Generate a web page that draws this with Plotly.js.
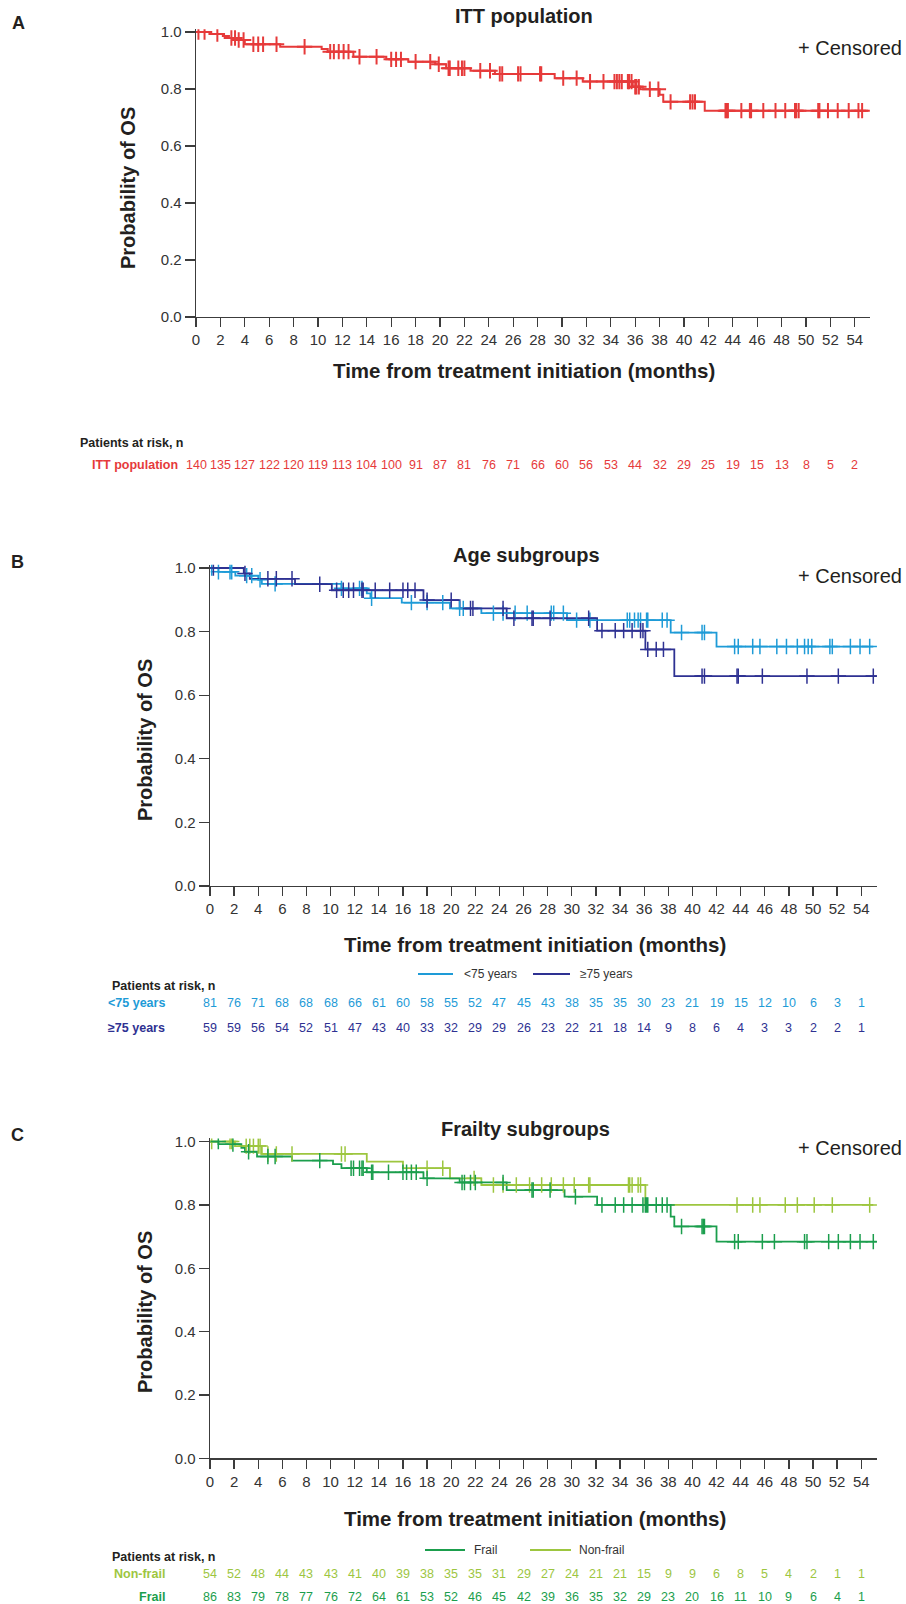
<!DOCTYPE html>
<html>
<head>
<meta charset="utf-8">
<script src="https://cdn.plot.ly/plotly-3.0.1.min.js"></script>
<style>html,body{margin:0;padding:0;background:#fff;}#chart{width:906px;height:1604px;}</style>
</head>
<body>
<div id="chart"></div>
<script>
// ---------------- DATA ----------------
const riskTimes = [0,2,4,6,8,10,12,14,16,18,20,22,24,26,28,30,32,34,36,38,40,42,44,46,48,50,52,54];

// Panel A: ITT population
const ittTimes = [0,1.1,2.2,2.7,3.3,4.0,6.9,10.3,10.8,12.9,15.6,17.4,19.6,20.5,22.5,24.5,29.4,31.7,35.8,36.4,38.0,38.3,41.7];
const ittSurv  = [1.0,0.993,0.986,0.979,0.972,0.957,0.948,0.940,0.931,0.913,0.904,0.896,0.887,0.873,0.864,0.853,0.838,0.826,0.808,0.799,0.780,0.755,0.724];
const ittEnd = 55.1;
const ittCensor = [0.2,0.7,1.75,2.9,3.2,3.5,3.9,4.7,5.1,5.5,6.6,8.9,11.0,11.3,11.7,12.1,12.5,13.4,14.8,16.0,16.4,16.8,18.0,19.2,19.9,20.7,20.8,21.5,21.8,22.0,23.3,24.1,24.9,25.1,26.4,26.6,28.2,28.3,30.1,31.2,32.3,33.4,34.3,34.5,34.7,34.9,35.4,35.5,35.7,36.0,36.1,36.3,37.2,37.9,38.9,40.5,40.7,40.9,43.4,43.5,43.6,44.7,45.4,45.5,46.5,47.5,48.3,49.1,49.2,49.4,51.0,51.1,51.8,52.6,53.5,54.3,54.6];
const ittRisk = [140,135,127,122,120,119,113,104,100,91,87,81,76,71,66,60,56,53,44,32,29,25,19,15,13,8,5,2];

// Panel B: age subgroups
const youngTimes = [0,0.7,2.1,4.0,4.3,10.9,13.0,13.3,15.9,19.9,22.5,29.6,38.2,42.0];
const youngSurv  = [1.0,0.988,0.976,0.963,0.950,0.936,0.920,0.905,0.891,0.873,0.858,0.836,0.797,0.753];
const youngEnd = 55.0;
const youngCensor = [0.14,0.7,1.66,1.8,3.04,3.46,4.15,5.4,10.9,12.4,12.6,13.4,16.7,18.0,19.3,20.7,21.0,23.5,24.3,25.3,26.3,28.3,28.5,29.3,30.4,31.5,34.6,34.8,35.2,35.5,35.7,36.2,36.3,37.5,37.9,39.1,40.8,41.0,43.5,43.8,45.0,45.6,47.0,47.8,48.7,49.3,49.6,49.9,51.4,51.6,53.1,53.9,54.7];
const youngRisk = [81,76,71,68,68,68,66,61,60,58,55,52,47,45,43,38,35,35,30,23,21,19,15,12,10,6,3,1];

const oldTimes = [0,2.8,3.3,7.05,10.1,17.7,20.7,24.6,32.1,36.1,38.5];
const oldSurv  = [1.0,0.983,0.966,0.949,0.930,0.899,0.873,0.842,0.803,0.744,0.660];
const oldEnd = 55.3;
const oldCensor = [0.28,2.9,4.8,5.5,6.8,9.1,10.5,11.05,11.5,11.9,12.6,12.7,13.7,14.9,16.0,16.4,17.0,18.0,20.0,21.6,21.8,24.3,25.2,26.7,26.8,28.2,31.4,32.5,33.6,34.3,35.0,35.7,35.9,36.3,37.0,37.6,40.8,41.0,43.7,43.8,45.8,49.5,52.1,55.0];
const oldRisk = [59,59,56,54,52,51,47,43,40,33,32,29,29,26,23,22,21,18,14,9,8,6,4,3,3,2,2,1];

// Panel C: frailty subgroups
const nonfrailTimes = [0,2.07,4.3,13.0,16.0,19.9,22.5,36.1];
const nonfrailSurv  = [1.0,0.986,0.961,0.937,0.916,0.884,0.863,0.800];
const nonfrailEnd = 55.0;
const nonfrailCensor = [0.14,1.66,1.8,3.0,3.3,3.6,4.0,4.15,4.8,5.5,6.8,10.9,11.2,18.0,19.3,21.9,23.5,24.3,25.4,26.5,27.5,28.3,29.3,30.2,31.4,31.5,34.7,34.8,35.0,35.5,35.7,43.7,45.0,45.6,47.7,48.7,50.1,51.6,54.7];
const nonfrailRisk = [54,52,48,44,43,43,41,40,39,38,35,35,31,29,27,24,21,21,15,9,9,6,8,5,4,2,1,1];

const frailTimes = [0,0.7,2.6,2.9,3.9,6.8,10.2,10.9,13.0,17.7,20.7,24.6,29.4,32.1,38.2,38.5,42.0];
const frailSurv  = [1.0,0.992,0.980,0.968,0.953,0.940,0.929,0.916,0.903,0.884,0.871,0.847,0.826,0.800,0.763,0.732,0.684];
const frailEnd = 55.3;
const frailCensor = [0.69,1.9,3.2,4.8,5.4,9.1,11.7,11.9,12.4,12.6,12.7,13.4,13.5,14.8,16.0,16.3,16.7,17.1,18.0,20.9,21.1,21.6,22.0,24.3,26.7,26.8,28.2,30.3,32.5,33.6,34.3,35.0,35.9,36.1,36.2,36.3,37.0,37.5,37.9,39.1,40.8,40.9,41.0,43.5,43.8,45.8,46.8,49.3,49.5,51.3,52.1,53.1,53.9,55.0];
const frailRisk = [86,83,79,78,77,76,72,64,61,53,52,46,45,42,39,36,35,32,29,23,20,16,11,10,9,6,4,1];

const yTickVals = [0,0.2,0.4,0.6,0.8,1.0];
const yTickText = ['0.0','0.2','0.4','0.6','0.8','1.0'];

// ---------------- STYLE ----------------
const C_ITT = '#E63A3A', C_YOUNG = '#1E9BD7', C_OLD = '#2E3192', C_FRAIL = '#1B9E4D', C_NONFRAIL = '#9DC63F';
const FONT = 'Liberation Sans, Arial, Helvetica, sans-serif';
const TXT = '#231F20';
const W = 906, H = 1604;
const PX = x => x / W, PY = y => 1 - y / H;

function stepVal(times, surv, t) { let v = surv[0]; for (let i = 0; i < times.length; i++) if (times[i] <= t) v = surv[i]; return v; }
function curve(times, surv, end, color, xa, ya, w) {
  return {x: times.concat([end]), y: surv.concat([surv[surv.length-1]]), xaxis: xa, yaxis: ya,
    mode: 'lines', line: {shape: 'hv', color: color, width: w}, hoverinfo: 'skip'};
}
function marks(times, surv, cens, color, xa, ya, lw) {
  return {x: cens, y: cens.map(t => stepVal(times, surv, t)), xaxis: xa, yaxis: ya, mode: 'markers',
    marker: {symbol: 'cross-thin', size: 11, color: color, line: {color: color, width: lw}}, hoverinfo: 'skip'};
}

const traces = [
  curve(ittTimes, ittSurv, ittEnd, C_ITT, 'x', 'y', 2),
  marks(ittTimes, ittSurv, ittCensor, C_ITT, 'x', 'y', 2),
  curve(youngTimes, youngSurv, youngEnd, C_YOUNG, 'x2', 'y2', 1.8),
  curve(oldTimes, oldSurv, oldEnd, C_OLD, 'x2', 'y2', 1.8),
  marks(youngTimes, youngSurv, youngCensor, C_YOUNG, 'x2', 'y2', 1.5),
  marks(oldTimes, oldSurv, oldCensor, C_OLD, 'x2', 'y2', 1.5),
  curve(nonfrailTimes, nonfrailSurv, nonfrailEnd, C_NONFRAIL, 'x3', 'y3', 1.8),
  curve(frailTimes, frailSurv, frailEnd, C_FRAIL, 'x3', 'y3', 1.8),
  marks(nonfrailTimes, nonfrailSurv, nonfrailCensor, C_NONFRAIL, 'x3', 'y3', 1.5),
  marks(frailTimes, frailSurv, frailCensor, C_FRAIL, 'x3', 'y3', 1.5)
];

function xax(x0px, pxPerMonth, rmax) {
  return {domain: [PX(x0px), PX(x0px + rmax * pxPerMonth)], range: [0, rmax], dtick: 2, tick0: 0,
    showline: true, linecolor: '#3C3C3C', linewidth: 1.3, ticks: 'outside', ticklen: 9, tickwidth: 1.3, tickcolor: '#3C3C3C',
    tickfont: {family: FONT, size: 15, color: '#333'}, showgrid: false, zeroline: false, fixedrange: true};
}
function yax(zeroPx, pxPerUnit, anchor) {
  return {domain: [PY(zeroPx), PY(zeroPx - 1.01 * pxPerUnit)], range: [0, 1.01], tickvals: yTickVals, ticktext: yTickText,
    showline: true, linecolor: '#3C3C3C', linewidth: 1.3, ticks: 'outside', ticklen: 10, tickwidth: 1.3, tickcolor: '#3C3C3C',
    tickfont: {family: FONT, size: 15, color: '#333'}, showgrid: false, zeroline: false, anchor: anchor, fixedrange: true};
}

const ann = [];
const shapes = [];
function txt(text, x, y, size, opts) {
  ann.push(Object.assign({text: text, x: PX(x), y: PY(y), xref: 'paper', yref: 'paper', showarrow: false,
    xanchor: 'center', yanchor: 'middle', font: {family: FONT, size: size, color: TXT}}, opts || {}));
}
function riskRow(values, xref, y, color) {
  values.forEach((v, i) => ann.push({text: String(v), x: riskTimes[i], xref: xref, y: PY(y), yref: 'paper',
    showarrow: false, xanchor: 'center', yanchor: 'middle', font: {family: FONT, size: 12.5, color: color}}));
}
function legLine(x0, x1, y, color) {
  shapes.push({type: 'line', xref: 'paper', yref: 'paper', x0: PX(x0), x1: PX(x1), y0: PY(y), y1: PY(y), line: {color: color, width: 2}});
}

// Panel A
txt('<b>A</b>', 18, 23, 18);
txt('<b>ITT population</b>', 524, 16, 20);
txt('+ Censored', 904, 48, 20, {xanchor: 'right'});
txt('<b>Probability of OS</b>', 128, 188, 20, {textangle: -90});
txt('<b>Time from treatment initiation (months)</b>', 524, 370, 20.5);
txt('<b>Patients at risk, n</b>', 78, 443, 12.5, {xanchor: 'left'});
txt('<b>ITT population</b>', 180, 465, 12.5, {xanchor: 'right', font: {family: FONT, size: 12.5, color: C_ITT}});
riskRow(ittRisk, 'x', 465, C_ITT);

// Panel B
txt('<b>B</b>', 17, 562, 18);
txt('<b>Age subgroups</b>', 526, 555, 20);
txt('+ Censored', 904, 576, 20, {xanchor: 'right'});
txt('<b>Probability of OS</b>', 145, 740, 20, {textangle: -90});
txt('<b>Time from treatment initiation (months)</b>', 535, 944, 20.5);
legLine(418, 453, 974, C_YOUNG);
txt('<75 years', 462, 974, 12, {xanchor: 'left', font: {family: FONT, size: 12, color: '#333'}});
legLine(533, 570, 974, C_OLD);
txt('≥75 years', 578, 974, 12, {xanchor: 'left', font: {family: FONT, size: 12, color: '#333'}});
txt('<b>Patients at risk, n</b>', 110, 986, 12.5, {xanchor: 'left'});
txt('<b><75 years</b>', 167, 1003, 12.5, {xanchor: 'right', font: {family: FONT, size: 12.5, color: C_YOUNG}});
txt('<b>≥75 years</b>', 167, 1028, 12.5, {xanchor: 'right', font: {family: FONT, size: 12.5, color: C_OLD}});
riskRow(youngRisk, 'x2', 1003, C_YOUNG);
riskRow(oldRisk, 'x2', 1028, C_OLD);

// Panel C
txt('<b>C</b>', 17, 1135, 18);
txt('<b>Frailty subgroups</b>', 525, 1129, 20);
txt('+ Censored', 904, 1148, 20, {xanchor: 'right'});
txt('<b>Probability of OS</b>', 145, 1312, 20, {textangle: -90});
txt('<b>Time from treatment initiation (months)</b>', 535, 1518, 20.5);
legLine(425, 465, 1550, C_FRAIL);
txt('Frail', 472, 1550, 12, {xanchor: 'left', font: {family: FONT, size: 12, color: '#333'}});
legLine(530, 571, 1550, C_NONFRAIL);
txt('Non-frail', 577, 1550, 12, {xanchor: 'left', font: {family: FONT, size: 12, color: '#333'}});
txt('<b>Patients at risk, n</b>', 110, 1557, 12.5, {xanchor: 'left'});
txt('<b>Non-frail</b>', 167, 1574, 12.5, {xanchor: 'right', font: {family: FONT, size: 12.5, color: C_NONFRAIL}});
txt('<b>Frail</b>', 167, 1597, 12.5, {xanchor: 'right', font: {family: FONT, size: 12.5, color: C_FRAIL}});
riskRow(nonfrailRisk, 'x3', 1574, C_NONFRAIL);
riskRow(frailRisk, 'x3', 1597, C_FRAIL);

const layout = {
  width: W, height: H, margin: {l: 0, r: 0, t: 0, b: 0, pad: 0},
  paper_bgcolor: '#fff', plot_bgcolor: 'rgba(0,0,0,0)', showlegend: false,
  font: {family: FONT, color: TXT},
  xaxis: Object.assign(xax(196, 12.2, 55.25), {anchor: 'y'}),
  yaxis: yax(317, 285, 'x'),
  xaxis2: Object.assign(xax(210, 12.06, 55.3), {anchor: 'y2'}),
  yaxis2: yax(886, 318, 'x2'),
  xaxis3: Object.assign(xax(210, 12.06, 55.3), {anchor: 'y3'}),
  yaxis3: yax(1458.3, 316.7, 'x3'),
  annotations: ann, shapes: shapes
};
Plotly.newPlot('chart', traces, layout, {displayModeBar: false, staticPlot: true});
</script>
</body>
</html>
